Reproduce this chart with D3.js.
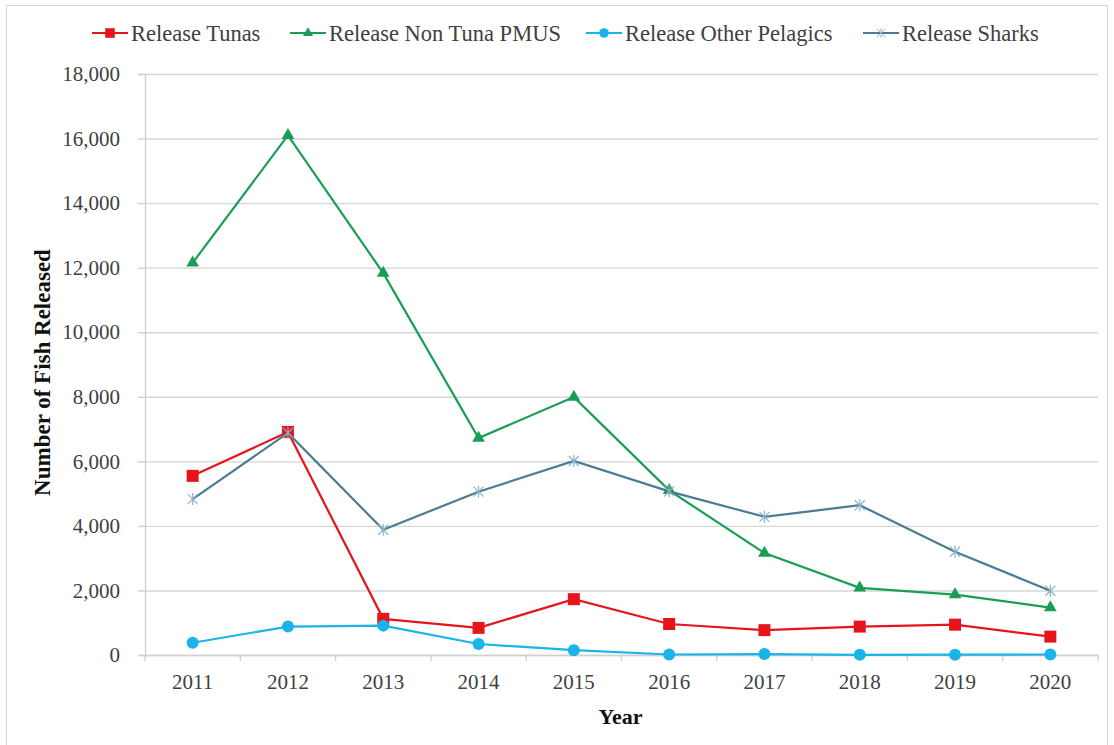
<!DOCTYPE html>
<html>
<head>
<meta charset="utf-8">
<script src="https://cdn.jsdelivr.net/npm/d3@7"></script>
<style>
    body { margin: 0; background: #fff; }
</style>
</head>
<body>
<div id="chart"></div>
<script>
// data
const years = ["2011", "2012", "2013", "2014", "2015", "2016", "2017", "2018", "2019", "2020"];
const tunas = [5550, 6910, 1120, 840, 1730, 960, 770, 880, 940, 570];
const nonTunaPmus = [12150, 16100, 11830, 6720, 7990, 5100, 3160, 2080, 1870, 1470];
const otherPelagics = [380, 880, 910, 340, 150, 15, 30, 5, 10, 15];
const sharks = [4830, 6880, 3880, 5060, 6010, 5070, 4280, 4640, 3200, 1990];
const yTicks = [0, 2000, 4000, 6000, 8000, 10000, 12000, 14000, 16000, 18000];

const series = [
    {name: "Release Tunas", values: tunas, color: "#e8141c", marker: "square"},
    {name: "Release Non Tuna PMUS", values: nonTunaPmus, color: "#1a9e55", marker: "triangle"},
    {name: "Release Other Pelagics", values: otherPelagics, color: "#18b4ea", marker: "circle"},
    {name: "Release Sharks", values: sharks, color: "#4b7b95", marker: "star"}
];

const FONT = '"Liberation Serif", "Times New Roman", serif';

const W = 1114, H = 745;
const margin = {top: 74, right: 16, bottom: 90, left: 145};
const width = 1098 - margin.left,
      height = 655 - margin.top;

const svg = d3.select("#chart")
    .append("svg")
    .attr("width", W)
    .attr("height", H);

// outer frame
svg.append("rect")
    .attr("x", 6.5).attr("y", 5.5)
    .attr("width", 1101).attr("height", 745)
    .attr("fill", "none")
    .attr("stroke", "#d4d4d4");

const g = svg.append("g")
    .attr("transform", `translate(${margin.left},${margin.top})`);

const x = d3.scaleBand()
    .domain(years)
    .range([0, width]);

const y = d3.scaleLinear()
    .domain([0, 18000])
    .range([height, 0]);

// gridlines
g.append("g")
    .attr("class", "grid")
    .call(d3.axisLeft(y).tickValues(yTicks).tickSize(-width).tickFormat(""))
    .call(s => s.select(".domain").remove())
    .selectAll("line")
    .attr("stroke", "#d6d6d6")
    .attr("stroke-width", 1.4);

// y axis
const yAxis = g.append("g")
    .call(d3.axisLeft(y).tickValues(yTicks).tickSize(7).tickPadding(18).tickFormat(d3.format(",")));
yAxis.select(".domain").attr("stroke", "#d0d0d0").attr("stroke-width", 1.4);
yAxis.selectAll(".tick line").attr("stroke", "#d0d0d0").attr("stroke-width", 1.4);
yAxis.selectAll("text")
    .attr("fill", "#404040")
    .style("font-family", FONT)
    .style("font-size", "21px");

// x axis: ticks sit on the band edges
const xAxis = g.append("g")
    .attr("transform", `translate(0,${height})`)
    .call(d3.axisBottom(x).tickSize(0).tickPadding(19));
xAxis.select(".domain").attr("stroke", "#d0d0d0").attr("stroke-width", 1.4);
xAxis.selectAll("text")
    .attr("fill", "#404040")
    .style("font-family", FONT)
    .style("font-size", "21px");
xAxis.selectAll(".edge")
    .data(d3.range(years.length + 1))
    .enter()
    .append("line")
    .attr("x1", i => i * x.step())
    .attr("x2", i => i * x.step())
    .attr("y1", 0)
    .attr("y2", 6)
    .attr("stroke", "#d0d0d0")
    .attr("stroke-width", 1.4);

// axis titles
g.append("text")
    .attr("x", width / 2 - 1)
    .attr("y", height + 69)
    .attr("text-anchor", "middle")
    .attr("fill", "#111")
    .style("font-family", FONT)
    .style("font-size", "22px")
    .style("font-weight", "bold")
    .text("Year");

g.append("text")
    .attr("transform", "rotate(-90)")
    .attr("x", -height / 2 - 8)
    .attr("y", -95)
    .attr("text-anchor", "middle")
    .attr("fill", "#111")
    .style("font-family", FONT)
    .style("font-size", "23px")
    .style("font-weight", "bold")
    .text("Number of Fish Released");

// markers
function drawMarker(sel, type, color) {
    if (type === "square") {
        sel.append("rect")
            .attr("x", -6).attr("y", -6)
            .attr("width", 12).attr("height", 12)
            .attr("fill", color);
    } else if (type === "triangle") {
        sel.append("path")
            .attr("d", d3.symbol(d3.symbolTriangle, 70)())
            .attr("fill", color);
    } else if (type === "circle") {
        sel.append("circle")
            .attr("r", 6)
            .attr("fill", color);
    } else {
        sel.append("path")
            .attr("d", "M-5,-5L5,5M-5,5L5,-5M0,-6L0,6")
            .attr("stroke", "#8fb3c8")
            .attr("stroke-width", 1.2)
            .attr("fill", "none");
    }
}

const line = d3.line()
    .x((d, i) => x(years[i]) + x.bandwidth() / 2)
    .y(d => y(d));

series.forEach(s => {
    g.append("path")
        .datum(s.values)
        .attr("d", line)
        .attr("fill", "none")
        .attr("stroke", s.color)
        .attr("stroke-width", 2.2);

    g.selectAll(null)
        .data(s.values)
        .enter()
        .append("g")
        .attr("transform", (d, i) => `translate(${x(years[i]) + x.bandwidth() / 2},${y(d)})`)
        .each(function() { drawMarker(d3.select(this), s.marker, s.color); });
});

// legend
const legendX = [92, 290, 586, 863];
const legend = svg.append("g");
series.forEach((s, i) => {
    const item = legend.append("g")
        .attr("transform", `translate(${legendX[i]},33)`);
    item.append("line")
        .attr("x1", 0).attr("x2", 36)
        .attr("stroke", s.color)
        .attr("stroke-width", 2.2);
    const m = item.append("g");
    drawMarker(m, s.marker, s.color);
    m.attr("transform", "translate(18,0) scale(0.8)");
    item.append("text")
        .attr("x", 39)
        .attr("y", 7.5)
        .attr("fill", "#404040")
        .style("font-family", FONT)
        .style("font-size", "22.5px")
        .text(s.name);
});
</script>
</body>
</html>
